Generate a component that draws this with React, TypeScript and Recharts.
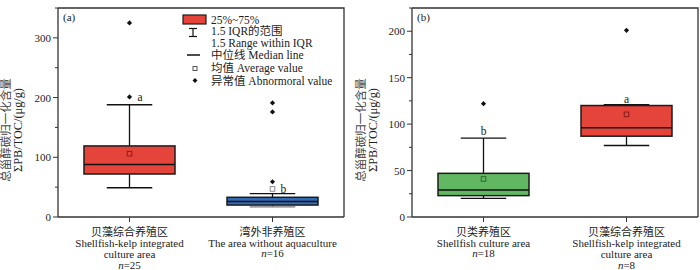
import React from 'react';
import { ComposedChart, Bar, Line, XAxis, YAxis } from 'recharts';

const FONT = "'Liberation Serif', 'Times New Roman', 'Noto Sans CJK SC', serif";
const INK = '#222';
const AXIS = '#333';

// ---------- Panel (a) data ----------
const catsA = ['贝藻综合养殖区', '湾外非养殖区'];
const enA = [['Shellfish-kelp integrated', 'culture area'], ['The area without aquaculture']];
const nA = [25, 16];
const q1A = [72, 20];
const medA = [88, 26];
const q3A = [119, 33];
const loA = [49, 17];
const hiA = [188, 39];
const meanA = [106, 47];
const outliersA = [[201, 325], [59, 176, 191]];
const lettersA = ['a', 'b'];
const letterAtA = [201, 47];
const ticksA = [0, 50, 100, 150, 200, 250, 300, 350];

// ---------- Panel (b) data ----------
const catsB = ['贝类养殖区', '贝藻综合养殖区'];
const enB = [['Shellfish culture area'], ['Shellfish-kelp integrated', 'culture area']];
const nB = [18, 8];
const q1B = [23, 87];
const medB = [29, 96];
const q3B = [47, 120];
const loB = [20, 77];
const hiB = [85, 121];
const meanB = [41, 110.5];
const outliersB = [[122], [201]];
const lettersB = ['b', 'a'];
const letterAtB = [85, 121];
const ticksB = [0, 25, 50, 75, 100, 125, 150, 175, 200, 225];

// ---------- styles ----------
const fillsA = ['#e5443b', '#2f6db5'];
const fillsB = ['#62b862', '#e5443b'];
const meanStrokeA = ['#8a1c18', '#8a8a8a'];
const meanStrokeB = ['#2a6a2a', '#8a1c18'];
const lowWhiskerA = ['#111', '#777'];
const lowWhiskerB = ['#111', '#111'];
const letterStyleA = [{ dx: 8, dy: 4, anchor: 'start' }, { dx: 8, dy: 4, anchor: 'start' }];
const letterStyleB = [{ dx: 0, dy: -3, anchor: 'middle' }, { dx: 0, dy: -2, anchor: 'middle' }];

function buildRows(cats, en, n, q1, med, q3, lo, hi, mean, outs, letters, letterAt, fills, meanStroke, lowWhisker, letterStyle) {
  return cats.map((c, i) => ({
    name: c,
    en: en[i],
    n: n[i],
    base: q1[i],
    iqr: q3[i] - q1[i],
    q1: q1[i],
    q3: q3[i],
    med: med[i],
    lo: lo[i],
    hi: hi[i],
    mean: mean[i],
    o1: outs[i][0] ?? null,
    o2: outs[i][1] ?? null,
    o3: outs[i][2] ?? null,
    letter: letters[i],
    letterAt: letterAt[i],
    boxFill: fills[i],
    meanStroke: meanStroke[i],
    lowStroke: lowWhisker[i],
    ls: letterStyle[i],
  }));
}

const rowsA = buildRows(catsA, enA, nA, q1A, medA, q3A, loA, hiA, meanA, outliersA, lettersA, letterAtA, fillsA, meanStrokeA, lowWhiskerA, letterStyleA);
const rowsB = buildRows(catsB, enB, nB, q1B, medB, q3B, loB, hiB, meanB, outliersB, lettersB, letterAtB, fillsB, meanStrokeB, lowWhiskerB, letterStyleB);

const BoxShape = (props: any) => {
  const { x, y, width, height, payload: p } = props;
  if (!p || !isFinite(height)) return <g />;
  const r = height / (p.q3 - p.q1);
  const bottom = y + height;
  const py = (v: number) => bottom - (v - p.q1) * r;
  const cx = x + width / 2;
  const capW = width / 2;
  const ms = 2.3;
  return (
    <g>
      <line x1={cx} x2={cx} y1={py(p.hi)} y2={y} stroke="#111" strokeWidth={1.3} />
      <line x1={cx} x2={cx} y1={bottom} y2={py(p.lo)} stroke={p.lowStroke} strokeWidth={1.3} />
      <line x1={cx - capW / 2} x2={cx + capW / 2} y1={py(p.hi)} y2={py(p.hi)} stroke="#111" strokeWidth={1.3} />
      <line x1={cx - capW / 2} x2={cx + capW / 2} y1={py(p.lo)} y2={py(p.lo)} stroke={p.lowStroke} strokeWidth={1.3} />
      <rect x={x} y={y} width={width} height={height} fill={p.boxFill} stroke="#1e1a1a" strokeWidth={1.5} />
      <line x1={x} x2={x + width} y1={py(p.med)} y2={py(p.med)} stroke="#111" strokeWidth={1.5} />
      <rect x={cx - ms} y={py(p.mean) - ms} width={ms * 2} height={ms * 2} fill={p.mean > p.q3 ? '#fff' : 'none'} stroke={p.meanStroke} strokeWidth={1} />
    </g>
  );
};

const EmptyShape = () => <g />;

const Diamond = (props: any) => {
  const { cx, cy, value } = props;
  if (value == null || cy == null || !isFinite(cy)) return <g key={props.key} />;
  const s = 2.6;
  return <path key={props.key} d={`M${cx},${cy - s}L${cx + s},${cy}L${cx},${cy + s}L${cx - s},${cy}Z`} fill="#111" />;
};

const LetterDot = (props: any) => {
  const { cx, cy, payload } = props;
  if (!payload || cy == null || !isFinite(cy)) return <g key={props.key} />;
  const ls = payload.ls;
  return (
    <text key={props.key} x={cx + ls.dx} y={cy + ls.dy} textAnchor={ls.anchor} fontFamily={FONT} fontSize={11.5} fill={INK}>
      {payload.letter}
    </text>
  );
};

const makeXTick = (rows: any[]) => (props: any) => {
  const { x, y, payload } = props;
  const row = rows.find((r) => r.name === payload.value);
  if (!row) return <g />;
  const lines: any[] = [payload.value, ...row.en];
  const step = 11.2;
  const y0 = y + 11.5;
  return (
    <g>
      {lines.map((l, i) => (
        <text key={i} x={x} y={y0 + i * step} textAnchor="middle" fontFamily={FONT} fontSize={11} fill={INK}>
          {l}
        </text>
      ))}
      <text x={x} y={y0 + lines.length * step - 0.5} textAnchor="middle" fontFamily={FONT} fontSize={11} fill={INK}>
        <tspan fontStyle="italic">n</tspan>={row.n}
      </text>
    </g>
  );
};

const makeYTick = (major: number) => (props: any) => {
  const { x, y, payload } = props;
  const v = payload.value;
  const isMajor = v % major === 0;
  const axisX = x + 7;
  return (
    <g>
      <line x1={axisX - (isMajor ? 5 : 3)} x2={axisX} y1={y} y2={y} stroke={AXIS} strokeWidth={1} />
      {isMajor && (
        <text x={x} y={y + 4} textAnchor="end" fontFamily={FONT} fontSize={11} fill={INK}>
          {v}
        </text>
      )}
    </g>
  );
};

const YLabel = ({ x1, x2, cy }: { x1: number; x2: number; cy: number }) => (
  <g>
    <text x={x1} y={cy} transform={`rotate(-90, ${x1}, ${cy})`} textAnchor="middle" dominantBaseline="central" fontFamily={FONT} fontSize={11.5} fill="#444">
      总甾醇碳归一化含量
    </text>
    <text x={x2} y={cy} transform={`rotate(-90, ${x2}, ${cy})`} textAnchor="middle" dominantBaseline="central" fontFamily={FONT} fontSize={12.3} fill={INK}>
      ΣPB/TOC/(μg/g)
    </text>
  </g>
);

const Legend = () => {
  const tx = 211;
  const fs = 11.5;
  const t = (y: number, s: string) => (
    <text x={tx} y={y} fontFamily={FONT} fontSize={fs} fill={INK}>{s}</text>
  );
  return (
    <g>
      <rect x={183} y={15} width={23} height={9} fill="#e5443b" stroke="#1e1a1a" strokeWidth={1.2} />
      {t(23.5, '25%~75%')}
      <line x1={189} x2={197} y1={28.5} y2={28.5} stroke="#111" strokeWidth={1.2} />
      <line x1={193} x2={193} y1={28.5} y2={36.5} stroke="#111" strokeWidth={1.2} />
      <line x1={189} x2={197} y1={36.5} y2={36.5} stroke="#111" strokeWidth={1.2} />
      {t(35, '1.5 IQR的范围')}
      {t(46.5, '1.5 Range within IQR')}
      <line x1={187} x2={200} y1={55} y2={55} stroke="#111" strokeWidth={1.5} />
      {t(59, '中位线 Median line')}
      <rect x={193} y={66.5} width={4} height={4} fill="#fff" stroke="#555" strokeWidth={1} />
      {t(72, '均值 Average value')}
      <path d="M195,78L197.5,80.5L195,83L192.5,80.5Z" fill="#111" />
      {t(84.5, '异常值 Abnormoral value')}
    </g>
  );
};

const Panel = ({ rows, ticks, major, yWidth, rightMargin, tag, labelX1, labelX2, legend }: any) => {
  const domain = [ticks[0], ticks[ticks.length - 1]];
  const left = yWidth;
  const right = 350 - rightMargin;
  const top = 8;
  const bottom = 217;
  return (
    <ComposedChart width={350} height={270} data={rows} margin={{ top: 8, right: rightMargin, bottom: 0, left: 0 }} barSize={91}>
      <XAxis
        dataKey="name"
        height={53}
        interval={0}
        tickSize={5}
        tickMargin={2}
        tickLine={{ stroke: AXIS }}
        axisLine={{ stroke: AXIS, strokeWidth: 1.3 }}
        tick={makeXTick(rows)}
      />
      <YAxis
        type="number"
        domain={domain}
        ticks={ticks}
        interval={0}
        width={yWidth}
        tickSize={5}
        tickMargin={2}
        tickLine={false}
        axisLine={{ stroke: AXIS, strokeWidth: 1.3 }}
        tick={makeYTick(major)}
      />
      <Bar dataKey="base" stackId="s" fill="transparent" shape={EmptyShape} isAnimationActive={false} />
      <Bar dataKey="iqr" stackId="s" shape={BoxShape} isAnimationActive={false} />
      <Line dataKey="o1" stroke="none" dot={Diamond} activeDot={false} isAnimationActive={false} />
      <Line dataKey="o2" stroke="none" dot={Diamond} activeDot={false} isAnimationActive={false} />
      <Line dataKey="o3" stroke="none" dot={Diamond} activeDot={false} isAnimationActive={false} />
      <Line dataKey="letterAt" stroke="none" dot={LetterDot} activeDot={false} isAnimationActive={false} />
      <path d={`M${left},${top}H${right}V${bottom}`} fill="none" stroke={AXIS} strokeWidth={1.3} />
      <text x={left + 5} y={21} fontFamily={FONT} fontSize={11} fill={INK}>{tag}</text>
      <YLabel x1={labelX1} x2={labelX2} cy={130} />
      {legend && <Legend />}
    </ComposedChart>
  );
};

export default function App() {
  return (
    <div style={{ position: 'fixed', left: 0, top: 0, width: 700, height: 270, background: '#fff', display: 'flex' }}>
      <Panel rows={rowsA} ticks={ticksA} major={100} yWidth={58} rightMargin={6} tag="(a)" labelX1={6} labelX2={18} legend />
      <Panel rows={rowsB} ticks={ticksB} major={50} yWidth={62} rightMargin={2} tag="(b)" labelX1={11} labelX2={23} legend={false} />
    </div>
  );
}
